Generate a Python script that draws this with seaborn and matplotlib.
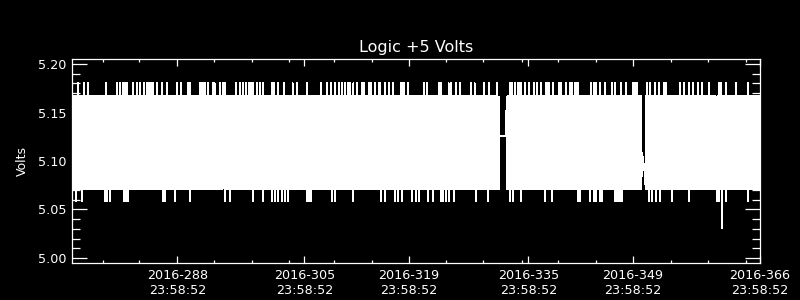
import numpy as np
import pandas as pd
import matplotlib
matplotlib.use("Agg")
import matplotlib.pyplot as plt
import seaborn as sns
from matplotlib.ticker import FixedLocator, MultipleLocator

# ---------------- data (day-of-year 2016, volts) ----------------
title = "Logic +5 Volts"
y_label = "Volts"

t_start = 274.903
t_end = 366.999
sample_step = 0.12          # days between plotted samples

band_low = 5.0714
band_high = 5.1666
spike_high = 5.1804
spike_low = 5.0584
notch_high = 5.153
notch_low = 5.085

up_spike_days = [275.7, 276.42, 277.09, 279.45, 280.88, 281.33, 281.77, 282.0, 282.22,
                 283.11, 283.56, 284.0, 284.45, 284.99, 285.21, 285.43, 285.70, 286.33,
                 286.91, 287.57, 289.0, 289.58, 290.34, 290.79, 292.04, 292.22, 292.39,
                 292.71, 293.15, 293.73, 294.04, 294.71, 295.07, 295.38, 296.81, 297.39,
                 297.84, 298.19, 298.60, 298.95, 299.18, 299.62, 300.07, 300.43, 301.63,
                 301.85, 302.52, 303.19, 304.44, 304.98, 306.32, 308.32, 309.0, 309.53,
                 310.11, 310.69, 311.0, 311.45, 311.89, 312.12, 312.56, 313.10, 313.68,
                 313.99, 314.57, 315.02, 315.46, 315.91, 316.22, 316.8, 317.38, 317.92,
                 318.90, 319.12, 319.34, 319.92, 322.07, 322.38, 324.03, 324.21, 324.39,
                 325.28, 325.64, 326.26, 326.84, 328.31, 328.76, 330.10, 330.72, 331.75,
                 333.53, 333.85, 334.20, 334.65, 334.83, 335.01, 335.54, 336.08, 336.66,
                 337.24, 337.68, 338.44, 338.62, 338.75, 339.33, 340.09, 340.45, 340.99,
                 341.57, 341.88, 342.23, 342.46, 342.68, 344.38, 344.69, 345.13, 345.58,
                 346.25, 347.14, 347.59, 347.95, 348.39, 349.02, 350.04, 350.27, 350.49,
                 351.83, 352.27, 352.85, 353.48, 354.06, 354.51, 356.29, 356.87, 357.50,
                 358.08, 358.65, 359.28, 360.17, 361.51, 361.78, 362.54, 363.88, 365.44]

down_spike_days = [275.53, 276.20, 279.32, 279.54, 279.99, 281.86, 282.13, 282.44, 287.04,
                   287.35, 288.69, 290.70, 295.38, 296.05, 299.18, 300.51, 301.63, 302.08,
                   302.52, 302.97, 303.41, 303.86, 306.32, 306.54, 306.76, 306.98, 309.66,
                   310.11, 312.47, 316.35, 316.80, 318.14, 318.59, 319.03, 320.37, 321.04,
                   321.35, 322.60, 323.27, 324.39, 324.61, 324.92, 325.28, 326.08, 329.07,
                   330.54, 333.53, 333.98, 335.01, 338.22, 339.11, 342.59, 342.90, 344.24,
                   344.69, 345.13, 345.58, 345.80, 347.59, 347.81, 348.04, 348.26, 348.48,
                   352.18, 352.59, 353.03, 353.61, 355.17, 357.41, 361.20, 361.51, 362.54,
                   365.44]

top_notch_days = [276.64, 322.83, 348.03, 361.20]
bottom_notch_days = [295.16, 347.45, 348.83]
deep_dip_days = [361.95]
deep_dip_values = [5.031]

gap_starts = [332.06, 351.20]
gap_ends = [333.00, 351.60]
gap_start_values = [5.126, 5.108]
gap_end_values = [5.126, 5.087]

major_tick_days = [288.999, 305.999, 319.999, 335.999, 349.999, 366.999]
major_tick_labels = ["2016-288\n23:58:52", "2016-305\n23:58:52", "2016-319\n23:58:52",
                     "2016-335\n23:58:52", "2016-349\n23:58:52", "2016-366\n23:58:52"]
minor_tick_days = [279.01, 283.91, 293.95, 298.96, 304.0, 310.02, 315.02, 324.97,
                   329.96, 335.10, 340.0, 345.01, 355.05, 360.09, 365.09]
y_limits = (4.9948, 5.2052)

# ---------------- build the sample series ----------------
t = np.arange(t_start, t_end + 1e-9, sample_step)
lo = np.full(t.shape, band_low)
hi = np.full(t.shape, band_high)


def nearest(days):
    return np.abs(t[:, None] - np.asarray(days)[None, :]).argmin(axis=0)


hi[nearest(up_spike_days)] = spike_high
lo[nearest(down_spike_days)] = spike_low
hi[nearest(top_notch_days)] = notch_high
lo[nearest(bottom_notch_days)] = notch_low
lo[nearest(deep_dip_days)] = deep_dip_values

keep = np.ones(t.shape, bool)
for s, e in zip(gap_starts, gap_ends):
    keep &= ~((t > s) & (t < e))

# each sample: min/max reached within it; the trace enters and leaves at the
# band edge so that the spikes stay single vertical strokes
days, volts = [], []
flip = False
for tk, l, h, k in zip(t, lo, hi, keep):
    if not k:
        continue
    top = min(h, band_high)
    bot = max(l, band_low)
    seq = (top, h, l, bot) if flip else (bot, l, h, top)
    days += [tk] * 4
    volts += list(seq)
    flip = not flip
for s, e, vs, ve in zip(gap_starts, gap_ends, gap_start_values, gap_end_values):
    days += [s, e]
    volts += [vs, ve]

df = pd.DataFrame({"day": days, "volts": volts})
df = df.sort_values("day", kind="mergesort").reset_index(drop=True)

# ---------------- plot ----------------
sns.set_theme(style="ticks")
plt.rcParams["font.family"] = ["DejaVu Sans"]

fig = plt.figure(figsize=(8, 3), dpi=100, facecolor="black")
ax = fig.add_axes([0.09, 0.1233, 0.86, 0.68])
ax.set_facecolor("black")

sns.lineplot(data=df, x="day", y="volts", sort=False, estimator=None,
             color="white", linewidth=0.72, antialiased=False, ax=ax)

ax.set_xlim(t_start, t_end)
ax.set_ylim(*y_limits)

for sp in ax.spines.values():
    sp.set_color("white")
    sp.set_linewidth(0.9)
    sp.set_visible(True)

ax.xaxis.set_major_locator(FixedLocator(major_tick_days))
ax.set_xticklabels(major_tick_labels)
ax.xaxis.set_minor_locator(FixedLocator(minor_tick_days))
ax.yaxis.set_major_locator(MultipleLocator(0.05))
ax.yaxis.set_minor_locator(MultipleLocator(0.01))
ax.yaxis.set_major_formatter(matplotlib.ticker.FormatStrFormatter("%.2f"))

ax.tick_params(which="both", direction="in", colors="white", width=0.9,
               top=True, right=True, labelcolor="white", labelsize=9.2)
ax.tick_params(axis="x", which="major", length=4.8, pad=4)
ax.tick_params(axis="x", which="minor", length=2.4)
ax.tick_params(axis="y", which="major", length=10.6, pad=4)
ax.tick_params(axis="y", which="minor", length=5.6)

ax.set_xlabel("")
ax.set_ylabel(y_label, color="white", fontsize=9)
ax.yaxis.set_label_coords(-0.062, 0.5)
ax.set_title(title, color="white", fontsize=11.5, pad=5)

fig.savefig("out.png", dpi=100, facecolor="black")
